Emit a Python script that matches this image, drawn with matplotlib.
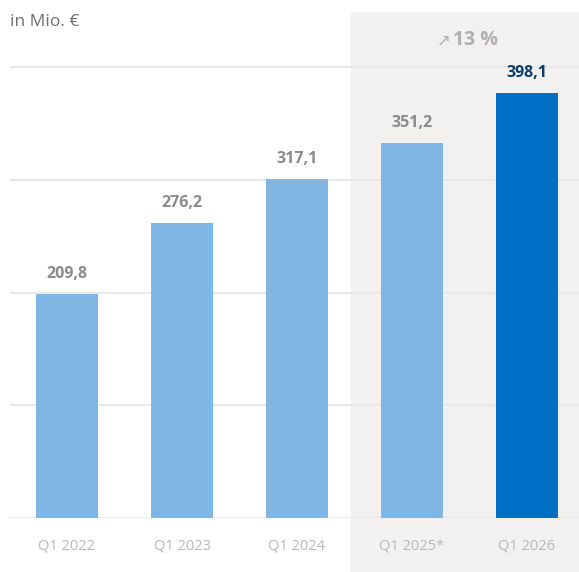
import matplotlib
matplotlib.use("Agg")
import matplotlib.pyplot as plt
from matplotlib.patches import Rectangle

categories = ["Q1 2022", "Q1 2023", "Q1 2024", "Q1 2025*", "Q1 2026"]
values = [209.8, 276.2, 317.1, 351.2, 398.1]
value_labels = ["209,8", "276,2", "317,1", "351,2", "398,1"]
grid_values = [105.5, 211, 316.5, 422]
growth_arrow = "↗"
growth_label = "13 %"
unit_label = "in Mio. €"

W, H = 579, 572
fig = plt.figure(figsize=(W / 100, H / 100), dpi=100)
plt.rcParams['font.family'] = ['Open Sans', 'DejaVu Sans']

# axes in pixel coordinates
left, right, bottom, top = 10, 579, 518, 12
ax = fig.add_axes([left / W, 1 - bottom / H, (right - left) / W, (bottom - top) / H])
ax.set_facecolor("none")
fig.patch.set_facecolor("white")

ppu = 1.068
ax.set_ylim(0, (bottom - top) / ppu)
xc0, step = 67, 115
ax.set_xlim((left - xc0) / step, (right - xc0) / step)

# gray highlight panel
px0 = (351 - xc0) / step
ax.add_patch(Rectangle((px0, -1000), 10, 1000 + (bottom - top) / ppu,
                       facecolor="#f2f1f0", edgecolor="none", zorder=0, clip_on=False))

for g in grid_values:
    ax.axhline(g, color="#e6e6e6", lw=1.3, zorder=1)
ax.axhline(0, color="#e6e6e6", lw=1.8, zorder=1)

colors = ["#80b6e4"] * 4 + ["#0070c7"]
xs = list(range(len(categories)))
ax.bar(xs, values, width=62 / step, color=colors, zorder=2)

for i, (v, lab) in enumerate(zip(values, value_labels)):
    c = "#0b3c6a" if i == len(values) - 1 else "#8a8a8a"
    ax.text(i, v + 20 / ppu, lab, ha="center", va="center", fontsize=11.5,
            fontweight="bold", color=c)

for i, cat in enumerate(categories):
    ax.text(i, -28 / ppu, cat, ha="center", va="center", fontsize=10.5, color="#b8b8b8")

ax.text((451 - xc0) / step, (bottom - 41) / ppu, growth_arrow, ha="right", va="center",
        fontsize=12, color="#b0b0b0")
ax.text((453 - xc0) / step, (bottom - 40) / ppu, growth_label, ha="left", va="center",
        fontsize=14, fontweight="bold", color="#b0b0b0")

fig.text(10 / W, 1 - 22 / H, unit_label, ha="left", va="center", fontsize=12.5, color="#6e6e6e")

for s in ax.spines.values():
    s.set_visible(False)
ax.set_xticks([])
ax.set_yticks([])

fig.savefig("out.png", dpi=100)
